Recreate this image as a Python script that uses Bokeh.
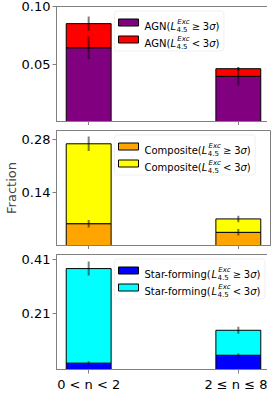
from bokeh.plotting import figure
from bokeh.layouts import column
from bokeh.models import Range1d, FixedTicker, PrintfTickFormatter, BoxAnnotation, ColumnDataSource
from bokeh.core.properties import value
from bokeh.embed import file_html
from bokeh.resources import INLINE

# ---------------- data ----------------
categories = ["0 < n < 2", "2 ≤ n ≤ 8"]
positions = [0, 1]

agn_ge = [0.0641, 0.0392]
agn_lt = [0.0210, 0.0067]
agn_err_ge = [0.0100, 0.0078]
agn_err_tot = [0.0061, 0.0015]

comp_ge = [0.0575, 0.0347]
comp_lt = [0.2105, 0.0353]
comp_err_ge = [0.0100, 0.0085]
comp_err_tot = [0.0190, 0.0085]

sf_ge = [0.0237, 0.0530]
sf_lt = [0.3519, 0.0930]
sf_err_ge = [0.0070, 0.0070]
sf_err_tot = [0.0260, 0.0130]

names = ["AGN", "Composite", "Star-forming"]
y_tops = [0.100, 0.303, 0.428]
y_ticks = [[0.05, 0.10], [0.14, 0.28], [0.21, 0.41]]

# ---------------- style ----------------
FONT = "DejaVu Sans"
FW, FH = 214, 115
XMIN, XMAX = -0.215, 1.215
GRAY = "#808080"

W = {'A': 0.684, 'G': 0.775, 'N': 0.748, '(': 0.390, ')': 0.390, 'L': 0.557,
     'E': 0.632, 'x': 0.592, 'c': 0.550, '4': 0.636, '.': 0.318, '5': 0.636,
     '≥': 0.838, '<': 0.838, ' ': 0.318, '3': 0.636, 'σ': 0.634, 'C': 0.698,
     'o': 0.612, 'm': 0.974, 'p': 0.635, 's': 0.521, 'i': 0.278, 't': 0.392,
     'e': 0.615, 'S': 0.635, 'a': 0.613, 'r': 0.411, 'f': 0.352, 'n': 0.634,
     'g': 0.635, '-': 0.361}


def tw(s, size):
    return sum(W.get(ch, 0.6) for ch in s) * size


def make_panel(name, ge, lt, err_ge, err_tot, c_ge, c_lt, ytop, ticks,
               top_border, bottom_border, last, ylabel):
    p = figure(frame_width=FW, frame_height=FH,
               x_range=Range1d(XMIN, XMAX), y_range=Range1d(0, ytop),
               output_backend="svg", toolbar_location=None,
               min_border_left=50, min_border_right=3,
               min_border_top=top_border, min_border_bottom=bottom_border,
               background_fill_color="white", border_fill_color="white")
    p.grid.visible = False
    p.outline_line_color = GRAY
    p.outline_line_width = 1

    tot = [g + l for g, l in zip(ge, lt)]
    src = ColumnDataSource(dict(
        x=positions, ge=ge, tot=tot,
        ge_lo=[g - e for g, e in zip(ge, err_ge)],
        ge_hi=[g + e for g, e in zip(ge, err_ge)],
        tot_lo=[t - e for t, e in zip(tot, err_tot)],
        tot_hi=[t + e for t, e in zip(tot, err_tot)],
    ))
    p.vbar(x='x', bottom=0, top='ge', width=0.3, source=src,
           fill_color=c_ge, line_color="black", line_width=1)
    p.vbar(x='x', bottom='ge', top='tot', width=0.3, source=src,
           fill_color=c_lt, line_color="black", line_width=1)
    p.segment(x0='x', y0='tot_lo', x1='x', y1='tot_hi', source=src,
              line_color="black", line_alpha=0.5, line_width=2)
    p.segment(x0='x', y0='ge_lo', x1='x', y1='ge_hi', source=src,
              line_color="black", line_alpha=0.5, line_width=2)

    # axes
    for ax in (p.xaxis[0], p.yaxis[0]):
        ax.axis_line_color = GRAY
        ax.major_tick_line_color = GRAY
        ax.minor_tick_line_color = GRAY
        ax.major_tick_out = 4
        ax.major_tick_in = 0
        ax.minor_tick_out = 0
        ax.minor_tick_in = 0
        ax.major_label_text_font = FONT
        ax.major_label_text_font_size = "13px"
        ax.major_label_text_color = "black"
    p.yaxis.ticker = FixedTicker(ticks=ticks, minor_ticks=[])
    p.yaxis.formatter = PrintfTickFormatter(format="%.2f")
    p.yaxis.major_label_standoff = 2
    if last:
        p.xaxis.ticker = FixedTicker(ticks=positions, minor_ticks=[])
        p.xaxis.major_label_overrides = {positions[0]: categories[0],
                                         positions[1]: categories[1]}
        p.xaxis.major_label_standoff = 3
    else:
        # tick marks only (no labels) on the upper panels
        p.xaxis.ticker = FixedTicker(ticks=[], minor_ticks=positions)
        p.xaxis.minor_tick_out = 4
        p.xaxis.major_label_standoff = 0
    if ylabel:
        p.yaxis.axis_label = ylabel
        p.yaxis.axis_label_text_font = FONT
        p.yaxis.axis_label_text_font_size = "13px"
        p.yaxis.axis_label_text_font_style = "normal"
        p.yaxis.axis_label_standoff = 0

    # ---- hand-built legend (mathtext-like labels) ----
    def dx(px):
        return XMIN + px / FW * (XMAX - XMIN)

    def dy(py):
        return ytop - py / FH * ytop

    box_l, box_t, box_h = 58, 4.5, 40
    text_l = box_l + 30
    rows = [(box_t + 11.5, c_ge, "≥"), (box_t + 28.5, c_lt, "<")]
    prefix = name + "("
    groups = {}
    width_total = 0
    for row_y, col, rel in rows:
        base = row_y + 3.6
        xl = tw(prefix, 10)
        xs = xl + tw("L", 10) + 0.4
        xr = xs + max(tw("Exc", 7), tw("4.5", 7)) + 2.8
        x3 = xr + tw(rel, 10) + 2.8
        pieces = [
            (prefix, 0, 0, "10px", "normal"),
            ("L", xl, 0, "10px", "italic"),
            ("Exc", xs + 0.8, -4.3, "7px", "italic"),
            ("4.5", xs, 2.6, "7px", "normal"),
            (rel, xr, 0, "10px", "normal"),
            ("3", x3, 0, "10px", "normal"),
            ("σ", x3 + tw("3", 10), 0, "10px", "italic"),
            (")", x3 + tw("3", 10) + tw("σ", 10), 0, "10px", "normal"),
        ]
        width_total = x3 + tw("3σ)", 10)
        for txt, ox, oy, size, style in pieces:
            g = groups.setdefault((size, style), dict(x=[], y=[], t=[]))
            g['x'].append(dx(text_l + ox))
            g['y'].append(dy(base + oy))
            g['t'].append(txt)
        p.rect(x=dx(box_l + 4 + 10), y=dy(row_y), width=20, height=7,
               width_units="screen", height_units="screen",
               fill_color=col, line_color="black", line_width=1)
    box_w = 30 + width_total + 4.5
    p.add_layout(BoxAnnotation(left=dx(box_l), right=dx(box_l + box_w),
                               top=dy(box_t), bottom=dy(box_t + box_h),
                               fill_color="white", fill_alpha=0.8,
                               line_color="#cccccc", line_width=1,
                               border_radius=3, level="underlay"))
    for (size, style), g in groups.items():
        p.text(x=g['x'], y=g['y'], text=g['t'], text_font=value(FONT),
               text_font_size=size, text_font_style=style,
               text_baseline="alphabetic", text_align="left", text_color="black")
    return p


p1 = make_panel(names[0], agn_ge, agn_lt, agn_err_ge, agn_err_tot,
                "#800080", "#ff0000", y_tops[0], y_ticks[0], 6, 4, False, None)
p2 = make_panel(names[1], comp_ge, comp_lt, comp_err_ge, comp_err_tot,
                "#ffa500", "#ffff00", y_tops[1], y_ticks[1], 5, 4, False, "Fraction")
p3 = make_panel(names[2], sf_ge, sf_lt, sf_err_ge, sf_err_tot,
                "#0000ff", "#00ffff", y_tops[2], y_ticks[2], 5, 22, True, None)

layout = column(p1, p2, p3, spacing=0)
open("out.html", "w").write(file_html(layout, INLINE))
